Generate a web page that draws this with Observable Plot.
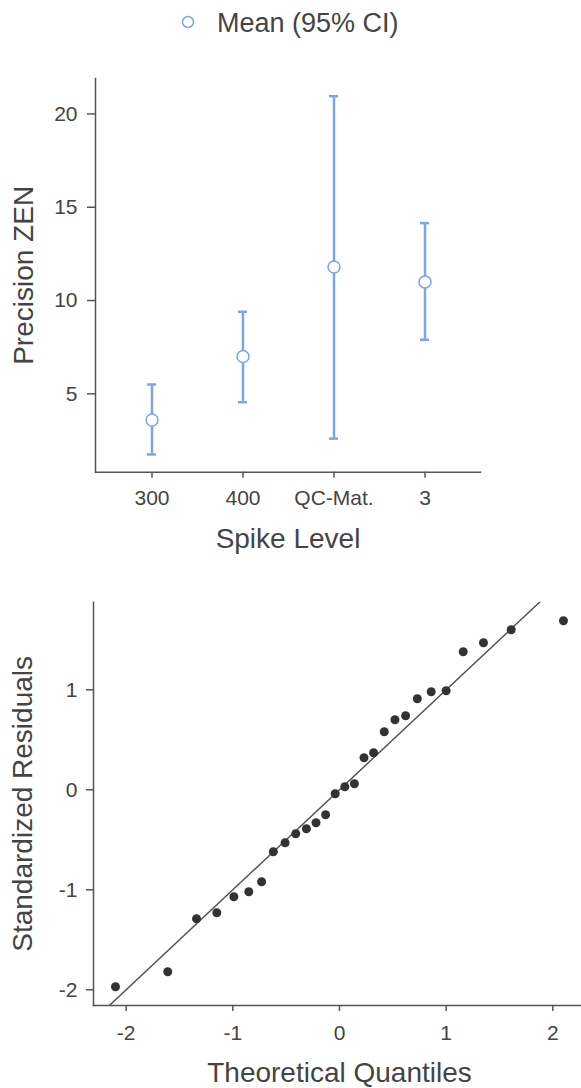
<!DOCTYPE html>
<html><head><meta charset="utf-8">
<script src="https://cdn.jsdelivr.net/npm/d3@7"></script>
<script src="https://cdn.jsdelivr.net/npm/@observablehq/plot@0.6"></script>
<style>
body{margin:0;background:#fff;font-family:"Liberation Sans",Arial,sans-serif;}
#wrap{position:relative;width:581px;height:1088px;overflow:hidden;}
#legend{position:absolute;left:0;top:0;}
#c1{position:absolute;left:0;top:50px;}
#c2{position:absolute;left:0;top:560px;}
</style></head><body>
<div id="wrap">
<div id="legend"><svg width="581" height="50"><circle cx="188" cy="22" r="5.5" fill="white" stroke="#7aa6ea" stroke-width="1.5"></circle><text x="217" y="31.7" font-size="27" fill="#444" font-family="Liberation Sans, Arial, sans-serif">Mean (95% CI)</text></svg></div>
<div id="c1"></div><div id="c2"></div>
</div>
<script>
// Top chart: mean with 95% CI by spike level
const spikeLevels = ["300", "400", "QC-Mat.", "3"];
const meanValues = [3.6, 7.0, 11.8, 11.0];
const ciLower = [1.75, 4.55, 2.6, 7.9];
const ciUpper = [5.5, 9.4, 20.95, 14.15];
const yTicksTop = [5, 10, 15, 20];

// Bottom chart: Q-Q plot of standardized residuals
const theoreticalQuantiles = [-2.10, -1.61, -1.34, -1.15, -0.99, -0.85, -0.73, -0.62, -0.51, -0.41, -0.31, -0.22, -0.13, -0.04, 0.05, 0.14, 0.23, 0.32, 0.42, 0.52, 0.62, 0.73, 0.86, 1.00, 1.16, 1.35, 1.61, 2.10];
const standardizedResiduals = [-1.97, -1.82, -1.29, -1.23, -1.07, -1.02, -0.92, -0.62, -0.53, -0.44, -0.39, -0.33, -0.25, -0.04, 0.03, 0.06, 0.32, 0.37, 0.58, 0.70, 0.74, 0.91, 0.98, 0.99, 1.38, 1.47, 1.60, 1.69];
const referenceLine = [-2.5, 2.5];
const xTicksQQ = [-2, -1, 0, 1, 2];
const yTicksQQ = [-2, -1, 0, 1];

const blue = "#7aa6ea";
const axisColor = "#555";
const textColor = "#444";
const font = "Liberation Sans, Arial, sans-serif";

const ci = spikeLevels.map((s, i) => ({level: s, mean: meanValues[i], lo: ciLower[i], hi: ciUpper[i]}));

const p1 = Plot.plot({
  width: 581, height: 510,
  marginTop: 28, marginBottom: 88.3, marginLeft: 95, marginRight: 101,
  style: {fontFamily: font, fontSize: "21px", color: textColor, background: "white", overflow: "visible"},
  x: {type: "band", domain: spikeLevels, paddingInner: 0.902, paddingOuter: 0.551},
  y: {domain: [0.8, 21.9]},
  marks: [
    Plot.frame({anchor: "left", stroke: axisColor, strokeWidth: 1.5}),
    Plot.frame({anchor: "bottom", stroke: axisColor, strokeWidth: 1.5}),
    Plot.axisY({ticks: yTicksTop, tickSize: 8, tickPadding: 10, label: null, stroke: axisColor, strokeWidth: 1.5, fill: textColor}),
    Plot.axisX({tickSize: 6, tickPadding: 12, label: null, stroke: axisColor, strokeWidth: 1.5, fill: textColor}),
    Plot.ruleX(ci, {x: "level", y1: "lo", y2: "hi", stroke: blue, strokeWidth: 2.5}),
    Plot.tickY(ci, {x: "level", y: "lo", stroke: blue, strokeWidth: 2.5}),
    Plot.tickY(ci, {x: "level", y: "hi", stroke: blue, strokeWidth: 2.5}),
    Plot.dot(ci, {x: "level", y: "mean", r: 6, fill: "white", stroke: blue, strokeWidth: 1.5}),
    Plot.text(["Spike Level"], {text: d => d, frameAnchor: "bottom", textAnchor: "middle", lineAnchor: "bottom", dy: 76, fontSize: 28, fill: textColor}),
    Plot.text(["Precision ZEN"], {text: d => d, frameAnchor: "left", textAnchor: "middle", lineAnchor: "middle", rotate: -90, dx: -71, fontSize: 28, fill: textColor})
  ]
});
document.getElementById("c1").appendChild(p1);

const qq = theoreticalQuantiles.map((q, i) => ({q, r: standardizedResiduals[i]}));

const p2 = Plot.plot({
  width: 581, height: 528,
  marginTop: 41.7, marginBottom: 83, marginLeft: 93, marginRight: 0,
  style: {fontFamily: font, fontSize: "21px", color: textColor, background: "white", overflow: "visible"},
  x: {domain: [-2.306, 2.269]},
  y: {domain: [-2.157, 1.876]},
  marks: [
    Plot.frame({anchor: "left", stroke: axisColor, strokeWidth: 1.5}),
    Plot.frame({anchor: "bottom", stroke: axisColor, strokeWidth: 1.5}),
    Plot.axisY({ticks: yTicksQQ, tickFormat: d => String(d), tickSize: 7, tickPadding: 9, label: null, stroke: axisColor, strokeWidth: 1.5, fill: textColor}),
    Plot.axisX({ticks: xTicksQQ, tickFormat: d => String(d), tickSize: 6, tickPadding: 14, label: null, stroke: axisColor, strokeWidth: 1.5, fill: textColor}),
    Plot.line(referenceLine, {x: d => d, y: d => d, clip: true, stroke: axisColor, strokeWidth: 1.5}),
    Plot.dot(qq, {x: "q", y: "r", r: 4.5, fill: "#333", stroke: "none"}),
    Plot.text(["Theoretical Quantiles"], {text: d => d, frameAnchor: "bottom", textAnchor: "middle", lineAnchor: "bottom", dy: 76.7, dx: 2, fontSize: 28, fill: textColor}),
    Plot.text(["Standardized Residuals"], {text: d => d, frameAnchor: "left", textAnchor: "middle", lineAnchor: "middle", rotate: -90, dx: -70, fontSize: 28, fill: textColor})
  ]
});
document.getElementById("c2").appendChild(p2);
</script>
</body></html>
